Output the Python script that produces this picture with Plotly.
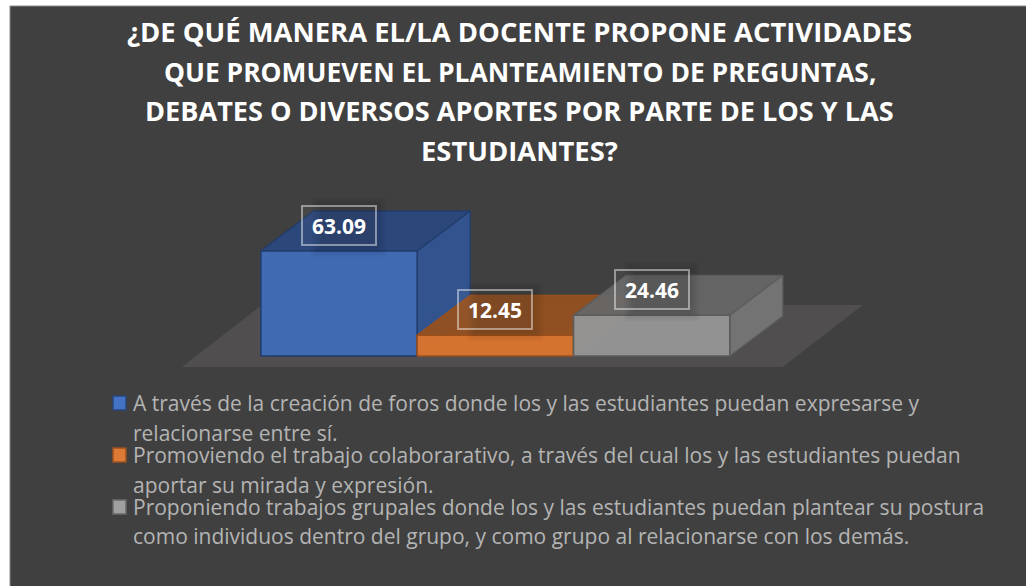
import plotly.graph_objects as go

# ---- data ----
values = [63.09, 12.45, 24.46]
positions = [0, 1, 2]
value_labels = ["63.09", "12.45", "24.46"]
title_lines = [
    "¿DE QUÉ MANERA EL/LA DOCENTE PROPONE ACTIVIDADES",
    "QUE PROMUEVEN EL PLANTEAMIENTO DE PREGUNTAS,",
    "DEBATES O DIVERSOS APORTES POR PARTE DE LOS Y LAS",
    "ESTUDIANTES?",
]
legend_lines = [
    ["A través de la creación de foros donde los y las estudiantes puedan expresarse y",
     "relacionarse entre sí."],
    ["Promoviendo el trabajo colaborarativo, a través del cual los y las estudiantes puedan",
     "aportar su mirada y expresión."],
    ["Proponiendo trabajos grupales donde los y las estudiantes puedan plantear su postura",
     "como individuos dentro del grupo, y como grupo al relacionarse con los demás."],
]

# ---- styles ----
W, H = 1026, 586
ML, MT = 10, 6
BG = "#404040"
FONT = "Open Sans"
front = ["rgba(65,107,180,0.96)", "rgba(214,114,48,0.96)", "rgba(150,150,150,0.92)"]
top = ["rgba(43,71,122,0.97)", "rgba(143,79,33,0.95)", "rgba(100,100,100,0.88)"]
side = ["rgba(50,84,142,0.97)", "rgba(150,84,36,0.95)", "rgba(116,116,116,0.95)"]
inner = ["rgba(60,100,170,0.6)", "rgba(200,105,45,0.6)", "rgba(130,130,130,0.6)"]
edge = ["#223c6c", "#9a4f1c", "#5c5c5c"]
swatch = ["#4472c4", "#dd7a35", "#a0a0a0"]
swatch_edge = ["#2a4679", "#9a5220", "#6a6a6a"]
title_sizes = [27.4, 26.4, 27.1, 27.4]

PX_X = 156.33        # pixels per category
PX_Y = 105 / 63.09   # pixels per value unit
X0_PX = 339          # pixel of first bar centre
Y0_PX = 356          # pixel of value 0
DEPTH_X = 53 / PX_X  # depth offset in x units
DEPTH_Y = 40 / PX_Y  # depth offset in value units
BAR = 1.0

fig = go.Figure()


def poly(xs, ys, fill, line=None, lw=1.3):
    fig.add_trace(go.Scatter(
        x=xs + xs[:1], y=ys + ys[:1], mode="lines", fill="toself", fillcolor=fill,
        line=dict(color=line or "rgba(0,0,0,0)", width=lw if line else 0),
        hoverinfo="skip", showlegend=False))


# floor
fx0, fx1 = positions[0] - BAR / 2 - 79 / PX_X, positions[-1] + BAR / 2 + 53 / PX_X
fy0, fy1 = -11 / PX_Y, 51 / PX_Y
fdx = 80 / PX_X
poly([fx0, fx1, fx1 + fdx, fx0 + fdx], [fy0, fy0, fy1, fy1], "#504e4e")

# 3D bars
for i, (p, v) in enumerate(zip(positions, values)):
    l, r = p - BAR / 2, p + BAR / 2
    # faces seen through the translucent front
    poly([l + DEPTH_X, r + DEPTH_X, r + DEPTH_X, l + DEPTH_X], [DEPTH_Y, DEPTH_Y, v + DEPTH_Y, v + DEPTH_Y], inner[i])
    poly([l, r, r + DEPTH_X, l + DEPTH_X], [0, 0, DEPTH_Y, DEPTH_Y], inner[i], edge[i], 0.5)
    poly([l, l + DEPTH_X, l + DEPTH_X, l], [0, DEPTH_Y, v + DEPTH_Y, v], inner[i], edge[i], 0.5)
    # visible faces
    poly([l, r, r + DEPTH_X, l + DEPTH_X], [v, v, v + DEPTH_Y, v + DEPTH_Y], top[i], edge[i])
    poly([r, r + DEPTH_X, r + DEPTH_X, r], [0, DEPTH_Y, v + DEPTH_Y, v], side[i], edge[i])
    poly([l, r, r, l], [0, 0, v, v], front[i], edge[i], 1.6)

annotations = []
shapes = []

def px(x):
    return (x - ML) / (W - ML)

def py(y):
    return 1 - (y - MT) / (H - MT)

# chart-area outline
shapes.append(dict(type="rect", xref="paper", yref="paper", x0=0, x1=1.01, y0=-0.01, y1=1,
                   line=dict(color="#8a8a8a", width=1), fillcolor="rgba(0,0,0,0)"))

# value labels with a soft shadow
for p, v, t in zip(positions, values, value_labels):
    for k in range(6):
        shapes.append(dict(
            type="rect", xref="x", yref="y", xsizemode="pixel", ysizemode="pixel",
            xanchor=p, yanchor=v, x0=-28 - 2 * k + 10, x1=28 + 2 * k + 10,
            y0=4 - 2 * k, y1=44 + 2 * k,
            fillcolor="rgba(0,0,0,0.025)", line=dict(width=0)))
    annotations.append(dict(
        x=p, y=v, yshift=26, xref="x", yref="y", text="<b>%s</b>" % t, showarrow=False,
        font=dict(family=FONT, size=21, color="white"),
        bordercolor="rgba(255,255,255,0.45)", borderwidth=2, borderpad=4,
        bgcolor="rgba(255,255,255,0.03)", width=64, height=29))

# title
for t, y, s in zip(title_lines, [32, 72, 111, 150], title_sizes):
    annotations.append(dict(
        x=px(519.5), y=py(y), xref="paper", yref="paper", xanchor="center", yanchor="middle",
        text="<b>%s</b>" % t, showarrow=False, font=dict(family=FONT, size=s, color="white")))

# legend
for lines, ys, c, ce, sy in zip(legend_lines, [(403, 433), (455, 485), (507, 536)], swatch, swatch_edge, [403, 455, 507]):
    for t, y in zip(lines, ys):
        annotations.append(dict(
            x=px(131), y=py(y), xref="paper", yref="paper", xanchor="left", yanchor="middle",
            text=t, showarrow=False, font=dict(family=FONT, size=21, color="#b4b4b4")))
    shapes.append(dict(type="rect", xref="paper", yref="paper", x0=px(113), x1=px(126), y0=py(sy - 7), y1=py(sy + 7),
                       fillcolor=c, line=dict(color=ce, width=1.5)))

fig.update_layout(
    width=W, height=H,
    margin=dict(l=ML, r=0, t=MT, b=0, pad=0),
    paper_bgcolor="white", plot_bgcolor=BG,
    showlegend=False,
    annotations=annotations, shapes=shapes,
    xaxis=dict(visible=False, range=[(ML - X0_PX) / PX_X, (W - X0_PX) / PX_X]),
    yaxis=dict(visible=False, range=[(Y0_PX - H) / PX_Y, (Y0_PX - MT) / PX_Y]),
)
fig.write_html("out.html", config=dict(displayModeBar=False),
               post_script="document.body.style.margin='0';document.body.style.overflow='hidden';")
